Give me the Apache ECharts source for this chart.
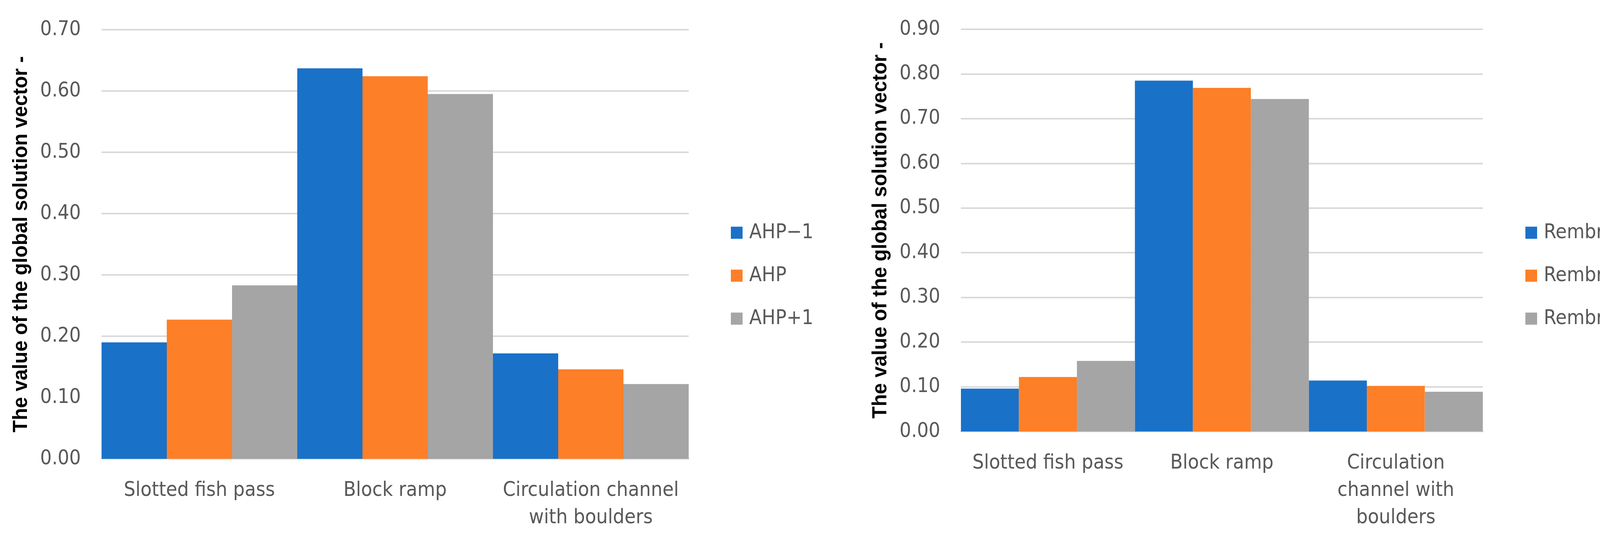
<!DOCTYPE html>
<html>
<head>
<meta charset="utf-8">
<script src="https://cdn.jsdelivr.net/npm/echarts@6/dist/echarts.min.js"></script>
<style>
html,body{margin:0;padding:0;background:#fff;}
#c{width:4310px;height:1388px;}
</style>
</head>
<body>
<div id="c"></div>
<script>
// ---- data ----
const categoriesLeft = ['Slotted fish pass', 'Block ramp', 'Circulation channel\nwith boulders'];
const categoriesRight = ['Slotted fish pass', 'Block ramp', 'Circulation\nchannel with\nboulders'];
const namesLeft = ['AHP\u22121', 'AHP', 'AHP+1'];
const namesRight = ['Rembrandt\u22121', 'Rembrandt', 'Rembrandt+1'];
const ahpMinus1 = [0.190, 0.637, 0.172];
const ahp = [0.227, 0.624, 0.146];
const ahpPlus1 = [0.283, 0.595, 0.122];
const rembMinus1 = [0.096, 0.785, 0.114];
const remb = [0.122, 0.769, 0.102];
const rembPlus1 = [0.158, 0.744, 0.089];
const yMaxLeft = 0.7;
const yMaxRight = 0.9;
const yInterval = 0.1;
const yAxisTitle = 'The value of the global solution vector -';

// ---- styles ----
const colors = ['#1a71c8', '#fd7f27', '#a5a5a5'];
const labelFont = "'DejaVu Sans Condensed','Liberation Sans Narrow','Open Sans',sans-serif";
const labelColor = '#595959';
const fs = 52;

function xAxis(gridIndex, cats) {
  return {
    type: 'category', gridIndex: gridIndex, data: cats,
    axisTick: {show: false},
    axisLine: {lineStyle: {color: '#d9d9d9', width: 4}},
    axisLabel: {color: labelColor, fontFamily: labelFont, fontSize: fs, lineHeight: 70, margin: 46, interval: 0}
  };
}
function yAxis(gridIndex, max) {
  return {
    type: 'value', gridIndex: gridIndex, min: 0, max: max, interval: yInterval,
    axisLine: {show: false}, axisTick: {show: false},
    splitLine: {lineStyle: {color: '#d9d9d9', width: 4}},
    axisLabel: {color: labelColor, fontFamily: labelFont, fontSize: fs, margin: 53,
      formatter: v => v.toFixed(2)},
    name: yAxisTitle, nameLocation: 'middle', nameGap: 180,
    nameTextStyle: {color: '#000', fontFamily: "'Liberation Sans',Arial,sans-serif", fontWeight: 'bold', fontSize: 51}
  };
}
function bar(name, data, idx, color) {
  return {
    type: 'bar', name: name, data: data, xAxisIndex: idx, yAxisIndex: idx,
    barGap: '0%', barCategoryGap: '0%', itemStyle: {color: color}
  };
}
function legend(left, names) {
  return {
    orient: 'vertical', left: left, top: 561, data: names,
    icon: 'rect', itemWidth: 30, itemHeight: 31, itemGap: 50,
    textStyle: {color: labelColor, fontFamily: labelFont, fontSize: fs, lineHeight: 60, padding: [0, 0, 0, 12]}
  };
}

const chart = echarts.init(document.getElementById('c'));
chart.setOption({
  backgroundColor: '#ffffff',
  animation: false,
  grid: [
    {left: 260, top: 76, width: 1503, height: 1099},
    {left: 2460, top: 75, width: 1336, height: 1030}
  ],
  legend: [legend(1866, namesLeft), legend(3900, namesRight)],
  xAxis: [xAxis(0, categoriesLeft), xAxis(1, categoriesRight)],
  yAxis: [yAxis(0, yMaxLeft), yAxis(1, yMaxRight)],
  series: [
    bar(namesLeft[0], ahpMinus1, 0, colors[0]),
    bar(namesLeft[1], ahp, 0, colors[1]),
    bar(namesLeft[2], ahpPlus1, 0, colors[2]),
    bar(namesRight[0], rembMinus1, 1, colors[0]),
    bar(namesRight[1], remb, 1, colors[1]),
    bar(namesRight[2], rembPlus1, 1, colors[2])
  ]
});
</script>
</body>
</html>
